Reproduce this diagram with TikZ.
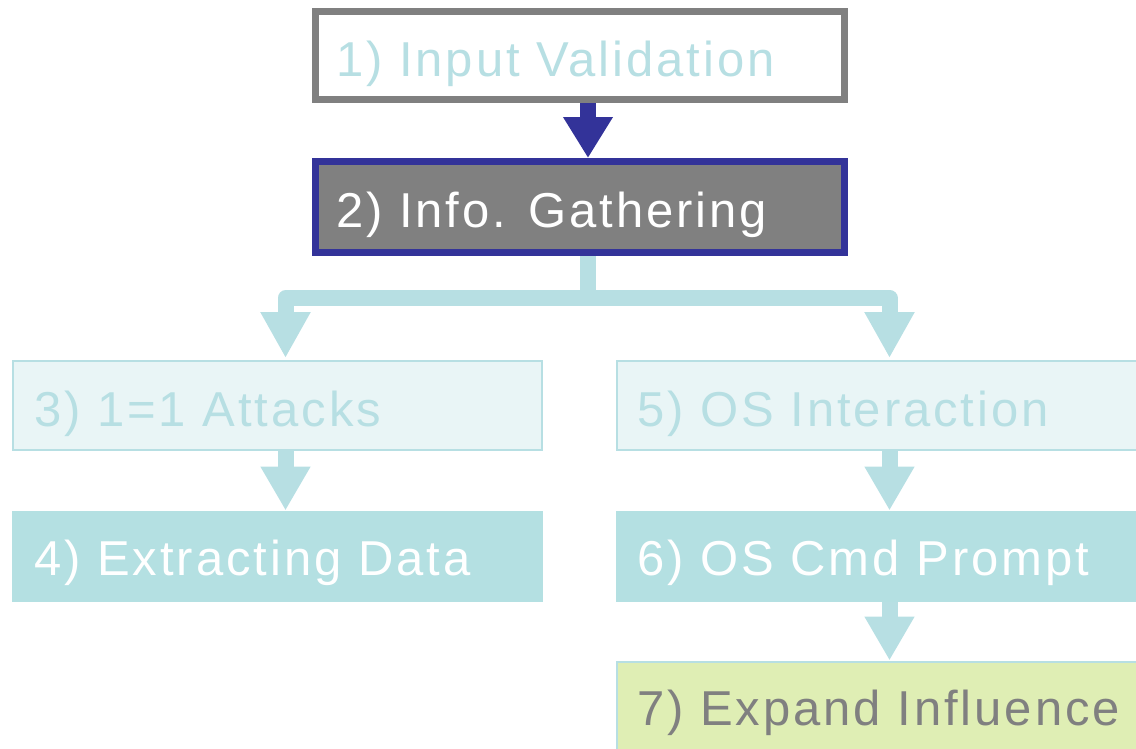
\documentclass[tikz,border=0pt]{standalone}
\usepackage{fontspec}
\setmainfont{Liberation Sans}[LetterSpace=6]
\usetikzlibrary{arrows.meta}
\definecolor{lblue}{HTML}{B7DFE3}
\definecolor{pale}{HTML}{E9F5F6}
\definecolor{mid}{HTML}{B4E0E2}
\definecolor{dblue}{HTML}{333399}
\definecolor{gr}{HTML}{808080}
\definecolor{lime}{HTML}{DFEEB4}
\tikzset{
  x=1pt, y=-1pt,
  box/.style={rectangle, inner sep=0pt, minimum width=#1, minimum height=87pt},
  thickbox/.style={box=529pt, line width=7pt, outer sep=3.5pt},
  thinbox/.style={box=529pt, line width=2pt, outer sep=1pt, draw=lblue},
  lbl/.style={anchor=base west, inner sep=0pt, font=\fontsize{49pt}{58pt}\selectfont},
  conn/.style={line width=16pt, line join=round, line cap=butt, draw=lblue,
    -{Triangle[length=46pt, width=47pt]}},
}
\begin{document}
\begin{tikzpicture}
\useasboundingbox (0,0) rectangle (1136,748);
\clip (0,0) rectangle (1136,748);
% boxes
\node[thickbox, draw=gr, fill=white, minimum height=88pt] (b1) at (580,55.5) {};
\node[thickbox, draw=dblue, fill=gr, minimum height=91pt] (b2) at (580,207) {};
\node[thinbox, fill=pale, minimum height=89pt] (b3) at (277.5,405.5) {};
\node[thinbox, fill=mid, draw=mid, minimum height=89pt] (b4) at (277.5,556) {};
\node[thinbox, fill=pale, minimum height=89pt] (b5) at (881.5,405.5) {};
\node[thinbox, fill=mid, draw=mid, minimum height=89pt] (b6) at (881.5,556) {};
\node[thinbox, fill=lime, minimum height=89pt] (b7) at (881.5,706) {};
% labels
\node[lbl, text=lblue] (t1) at (336,76) {1) Input Validation};
\node[lbl, text=white] (t2) at (336,227) {2) Info. Gathering};
\node[lbl, text=lblue] (t3) at (34,426) {3) 1=1 Attacks};
\node[lbl, text=white] (t4) at (34,575) {4) Extracting Data};
\node[lbl, text=lblue] (t5) at (637,426) {5) OS Interaction};
\node[lbl, text=white] (t6) at (637,575) {6) OS Cmd Prompt};
\node[lbl, text=gr] (t7) at (637,725) {7) Expand Influence};
% connectors
\draw[conn, draw=dblue, -{Triangle[length=41pt, width=47pt]}]
  ([xshift=8pt]b1.south) -- ([xshift=8pt]b2.north);
\coordinate (bar) at ([xshift=8pt,yshift=-42pt]b2.south);
\draw[conn] ([xshift=8pt]b2.south) -- (bar) -| ([xshift=8pt,yshift=2pt]b3.north);
\draw[conn] ([xshift=8pt]b2.south) -- (bar) -| ([xshift=8pt,yshift=2pt]b5.north);
\draw[conn, -{Triangle[length=44pt, width=47pt]}]
  ([xshift=8pt]b3.south) -- ([xshift=8pt]b4.north);
\draw[conn, -{Triangle[length=44pt, width=47pt]}]
  ([xshift=8pt]b5.south) -- ([xshift=8pt]b6.north);
\draw[conn, -{Triangle[length=44pt, width=47pt]}]
  ([xshift=8pt]b6.south) -- ([xshift=8pt]b7.north);
\end{tikzpicture}
\end{document}
